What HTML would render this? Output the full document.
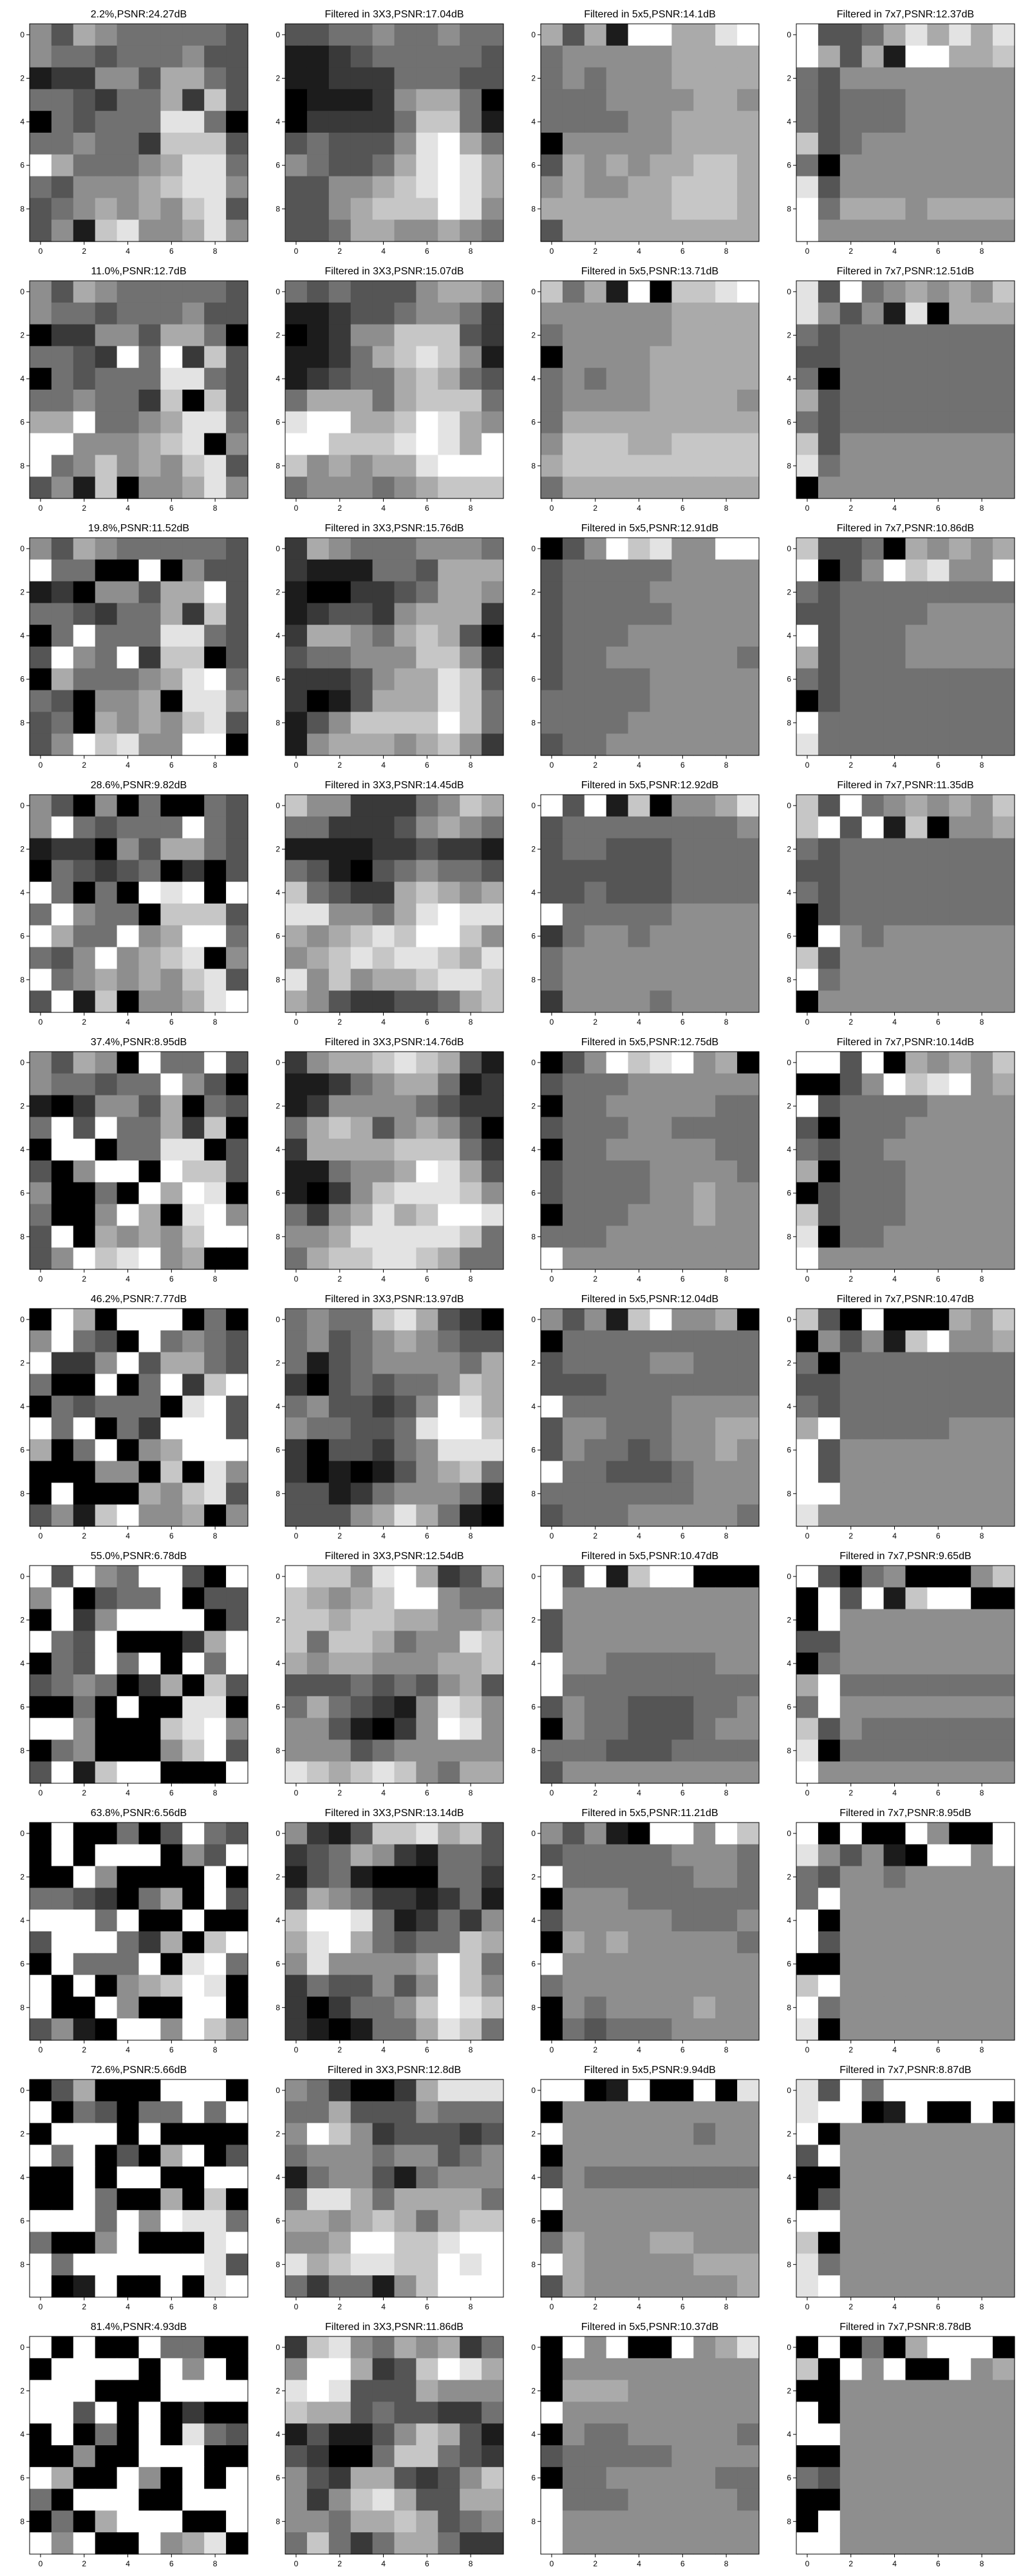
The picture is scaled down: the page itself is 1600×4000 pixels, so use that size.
<!DOCTYPE html>
<html><head><meta charset="utf-8"><style>
html,body{margin:0;padding:0;background:#fff;}
svg{display:block;font-family:"Liberation Sans","DejaVu Sans",sans-serif;}
</style></head>
<body>
<svg id="fig" width="1600" height="4000" viewBox="0 0 1600 4000" xmlns="http://www.w3.org/2000/svg"></svg>
<script>
// Grey levels 0 (black) .. 9 (white), one 100-digit string per panel (row-major 10x10)
const noisyImages = [
"5365444443"+"5443444533"+"1225536643"+"4432446273"+"0434448840"+"4454427773"+"9644456884"+"4355567885"+"3456565783"+"3517855685",
"5365444443"+"5443444533"+"0225536640"+"4432949273"+"0434448843"+"4454427073"+"6694456884"+"9955567805"+"9457565783"+"3517055685",
"5365444443"+"9440090533"+"1205536693"+"4432446273"+"0494448843"+"3954927703"+"0644456894"+"4305560885"+"3406565783"+"3597855990",
"5305040043"+"5943444943"+"1220536643"+"0432340203"+"9404098909"+"4954407773"+"9644956994"+"4359567805"+"9456565783"+"3917055689",
"5365094493"+"5443449530"+"1025536043"+"4939446270"+"0990448803"+"3059909773"+"5004096980"+"4005960895"+"3906565799"+"3597895600",
"0960999040"+"5943094543"+"9225936643"+"4009049279"+"0434440893"+"9490429993"+"6049056999"+"0005507085"+"0900065783"+"3517955605",
"9395499309"+"5903449033"+"0925999903"+"9439000269"+"0439490949"+"3454026073"+"0040900880"+"9950007895"+"0450005793"+"3917990009",
"0900403943"+"0909990539"+"0095000090"+"4432046093"+"9994900900"+"3999426079"+"0944490894"+"9090567980"+"9009500990"+"3510995975",
"0360009990"+"9043044949"+"0999090000"+"9490306903"+"0090990099"+"0094006070"+"9994959884"+"4005900089"+"9499999983"+"9019009089",
"9090094400"+"0999909590"+"9990009999"+"9939090200"+"0904090843"+"0050099900"+"9600950909"+"4099900999"+"0406999009"+"9590095680"
];
const median3x3 = [
"3344544544"+"1123444443"+"1122244433"+"0111256640"+"0222247741"+"3433358964"+"5433468986"+"3355678986"+"3356777985"+"3346655654",
"4343335665"+"1123345542"+"0125577732"+"1124678751"+"1234467643"+"4666467774"+"8996679865"+"9977789869"+"7565668999"+"4555456777",
"2654445554"+"2111443666"+"1002234665"+"1233256662"+"2665467630"+"3445557752"+"2223566873"+"2013666874"+"1357777974"+"1566656752",
"7552224576"+"4422235654"+"1111223221"+"4310345443"+"7432267656"+"8855468988"+"6567879975"+"5678788768"+"8575667887"+"6532233467",
"2566787631"+"1124566412"+"1255554322"+"4676356530"+"2666677742"+"1145569863"+"1025788875"+"4256867998"+"5568888874"+"4677887644",
"4544786320"+"4534565433"+"4134555546"+"2034344576"+"4533235986"+"5443348997"+"2033245888"+"2010135674"+"3312455541"+"3335686410",
"9775896236"+"7656799544"+"7767766556"+"7477645587"+"6566555667"+"3334343563"+"4643215875"+"5531025985"+"5553455555"+"8767875466",
"5213778673"+"2346521443"+"1341000442"+"3654221241"+"7998412425"+"6896434476"+"5855556974"+"2433535975"+"2024457987"+"2101446874",
"5420026888"+"4463335444"+"5975233323"+"4555455345"+"1455314555"+"4886466664"+"6656764677"+"5569977899"+"8678877989"+"4244157999",
"2785465624"+"5996237986"+"8983336555"+"7663433224"+"1311357631"+"3200477432"+"5326632357"+"5257863366"+"5546676345"+"4742466422"
];
const median5x5 = [
"6361996689"+"4555556666"+"4545556666"+"4445555665"+"4444556666"+"0555556666"+"3656566776"+"5655667776"+"6666667776"+"3666666666",
"7461907789"+"5555556666"+"4555556666"+"0555566666"+"4545566666"+"4555566665"+"4666666666"+"5777667777"+"6777777777"+"4666666666",
"0359785599"+"3444445555"+"3444455555"+"3444445555"+"3444555555"+"3445555554"+"3444455555"+"4444455555"+"4444555555"+"3445555555",
"9391705568"+"3444444445"+"3443334444"+"3333334444"+"3343334444"+"9444445555"+"2455455555"+"4555555555"+"4555555555"+"2555545555",
"0359789560"+"3444555555"+"0445555544"+"3444554444"+"0445555544"+"3444455554"+"3444455655"+"0444555655"+"4445555555"+"9555555555",
"5351795560"+"0444444444"+"3444455444"+"3334444444"+"9444445555"+"3554445566"+"3544345565"+"9443334555"+"4444444555"+"3444555554",
"9391799000"+"9555555555"+"3555555555"+"3555555555"+"9554444455"+"9444444444"+"3544333445"+"0544333455"+"4443334444"+"3555555555",
"5351099597"+"3444445554"+"9444444554"+"0555444444"+"3555554445"+"0656555554"+"9555555555"+"4555555555"+"0545555655"+"0434445555",
"9901900908"+"0555555555"+"9555555455"+"0555555555"+"3544444444"+"9555555555"+"0555555555"+"4655566555"+"9655555666"+"3655555556",
"0959009568"+"0555555555"+"0666555555"+"9555555555"+"0544555554"+"3444445555"+"0445555544"+"9444555554"+"9555555555"+"9555555555"
];
const median7x7 = [
"9334686868"+"9636199667"+"4355555555"+"4344455555"+"4344455555"+"7345555555"+"4055555555"+"8355555555"+"9466656666"+"9555555555",
"8394565657"+"8535180666"+"4344444444"+"3344444444"+"4044444444"+"6344444444"+"4344444444"+"7355555555"+"8455555555"+"0555555555",
"7334065656"+"9035978559"+"4344444444"+"3344445555"+"9344455555"+"6344455555"+"4344444444"+"0344444444"+"9444444444"+"8444444444",
"7394565657"+"7939170556"+"4344444444"+"3344444444"+"4344444444"+"0344444444"+"0954555555"+"7355555555"+"9455555555"+"0555555555",
"9939065657"+"0035978956"+"9344445555"+"3044455555"+"4344555555"+"6044455555"+"0344455555"+"7344455555"+"8044555555"+"9555555555",
"7309000657"+"0535179556"+"4044444444"+"3344444444"+"4344444444"+"6944444555"+"9355555555"+"9355555555"+"9955555555"+"8555555555",
"9304500057"+"0939179900"+"0955555555"+"3355555555"+"0455555555"+"6944444444"+"4955555555"+"7354444444"+"8044444444"+"9555555555",
"9090095009"+"8535109959"+"4355455555"+"4955555555"+"9055555555"+"9355555555"+"0055555555"+"7955555555"+"9455555555"+"8055555555",
"8394999999"+"8990190090"+"9055555555"+"3955555555"+"0055555555"+"0355555555"+"9955555555"+"7055555555"+"8455555555"+"8955555555",
"0904069990"+"7095900956"+"0055555555"+"9055555555"+"9955555555"+"0055555555"+"4355555555"+"0055555555"+"0955555555"+"9955555555"
];
const noisyTitles = ["2.2%,PSNR:24.27dB","11.0%,PSNR:12.7dB","19.8%,PSNR:11.52dB","28.6%,PSNR:9.82dB","37.4%,PSNR:8.95dB","46.2%,PSNR:7.77dB","55.0%,PSNR:6.78dB","63.8%,PSNR:6.56dB","72.6%,PSNR:5.66dB","81.4%,PSNR:4.93dB"];
const psnr3 = ["17.04","15.07","15.76","14.45","14.76","13.97","12.54","13.14","12.8","11.86"];
const psnr5 = ["14.1","13.71","12.91","12.92","12.75","12.04","10.47","11.21","9.94","10.37"];
const psnr7 = ["12.37","12.51","10.86","11.35","10.14","10.47","9.65","8.95","8.87","8.78"];
const tickLabels = ["0","2","4","6","8"];

const NS = "http://www.w3.org/2000/svg";
const svg = document.getElementById("fig");
const colLeft = [46, 443, 840, 1237];
const PW = 339, PH = 338, TOP0 = 37, ROWSTEP = 399;
const cw = PW / 10, ch = PH / 10;
function xPos(col, i) { return colLeft[col] + i * cw; }
function yPos(row, j) { return TOP0 + row * ROWSTEP + j * ch; }
function grey(v) { const g = Math.round(v / 9 * 255); return "rgb(" + g + "," + g + "," + g + ")"; }
function mk(tag, attrs) { const e = document.createElementNS(NS, tag); for (const k in attrs) e.setAttribute(k, attrs[k]); return e; }

const panelsByCol = [noisyImages, median3x3, median5x5, median7x7];
const sizeNames = ["noisy", "3x3", "5x5", "7x7"];
for (let r = 0; r < 10; r++) {
  const titles = [noisyTitles[r], "Filtered in 3X3,PSNR:" + psnr3[r] + "dB", "Filtered in 5x5,PSNR:" + psnr5[r] + "dB", "Filtered in 7x7,PSNR:" + psnr7[r] + "dB"];
  for (let c = 0; c < 4; c++) {
    const g = mk("g", {});
    
    
    const data = panelsByCol[c][r];
    for (let j = 0; j < 10; j++) {
      for (let i = 0; i < 10; i++) {
        const v = +data[j * 10 + i];
        const rc = mk("rect", { x: xPos(c, i), y: yPos(r, j), width: cw + 0.6, height: ch + 0.6, fill: grey(v) });
        
        
        g.appendChild(rc);
      }
    }
    const left = colLeft[c], top = yPos(r, 0);
    const frame = mk("rect", { x: left, y: top, width: PW, height: PH, fill: "none", stroke: "#000", "stroke-width": 1 });
    
    
    g.appendChild(frame);
    const t = mk("text", { x: left + PW / 2, y: top - 10, "text-anchor": "middle", "font-size": 16, fill: "#000" });
    t.textContent = titles[c];
    
    
    g.appendChild(t);
    for (let k = 0; k < tickLabels.length; k++) {
      const idx = +tickLabels[k];
      const tx = xPos(c, idx + 0.5);
      g.appendChild(mk("line", { x1: tx, y1: top + PH, x2: tx, y2: top + PH + 5, stroke: "#000", "stroke-width": 1 }));
      const xl = mk("text", { x: tx, y: top + PH + 19, "text-anchor": "middle", "font-size": 12, fill: "#000" });
      xl.textContent = tickLabels[k];
      
      
      g.appendChild(xl);
      const ty = yPos(r, idx + 0.5);
      g.appendChild(mk("line", { x1: left - 5, y1: ty, x2: left, y2: ty, stroke: "#000", "stroke-width": 1 }));
      const yl = mk("text", { x: left - 8, y: ty + 4, "text-anchor": "end", "font-size": 12, fill: "#000" });
      yl.textContent = tickLabels[k];
      
      
      g.appendChild(yl);
    }
    svg.appendChild(g);
  }
}
</script>
</body></html>
